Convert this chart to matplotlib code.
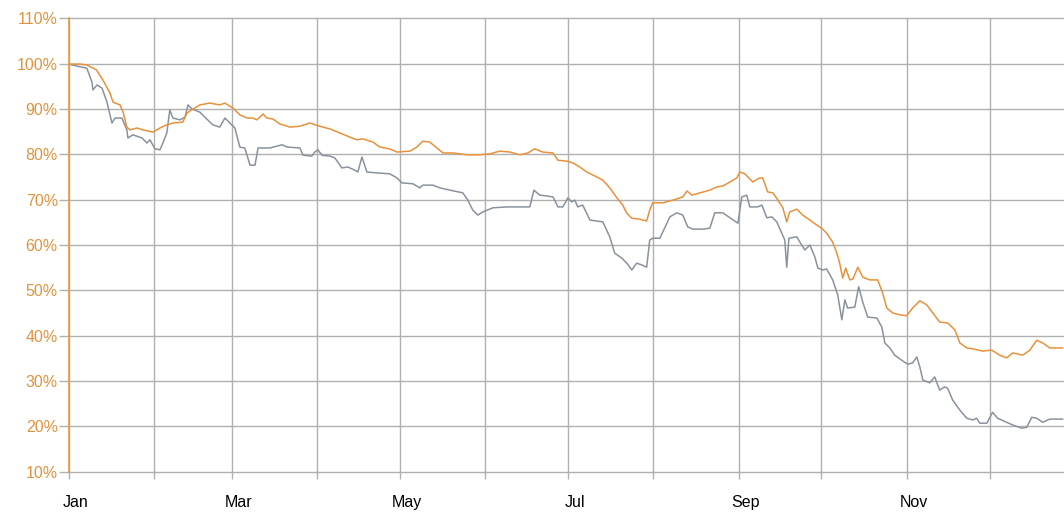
import numpy as np
import matplotlib.pyplot as plt
import matplotlib.transforms as mtransforms

# day of year / percent of start value
orange_day = [0, 4, 6.5, 10, 12.3, 14.9, 16, 18.5, 19.6, 21, 22.1, 24.7, 26.8, 30.5, 33, 35.5, 37.7, 41.3,
              42.8, 45, 47.5, 51.1, 54.7, 56.6, 59.5, 62, 64.6, 66.7, 68.2, 70.4, 71.8, 74, 76.5, 80.2, 83.8,
              87.4, 91, 94.7, 98.3, 101.9, 104.5, 106.6, 110.3, 112.8, 116.4, 119, 123.7, 126.2, 128.4, 130.9,
              133.5, 135.7, 139.3, 144.4, 149.1, 152.7, 156.3, 160, 163.6, 166.5, 169, 171.9, 175.6, 177.4,
              180.6, 182.8, 185.3, 187.9, 191.5, 193.7, 196.2, 198.8, 200.9, 202.4, 204.2, 207.1, 209.6, 210.7,
              211.8, 215.5, 219.1, 222.7, 224.2, 226, 228.9, 232.5, 235, 237.2, 239.8, 242.3, 243.4, 245.2,
              248.1, 250.6, 251.7, 253.5, 255.4, 257.2, 259, 260.4, 261.5, 264.1, 266.2, 268.8, 271.3, 273.1,
              274.9, 277.1, 278.6, 279.6, 280.7, 281.8, 283.3, 284.4, 286.2, 288, 290.5, 293.4, 295.2, 296.7,
              298.9, 301.4, 303.9, 306.1, 308.7, 311.2, 313.4, 315.9, 318.8, 321.4, 323.2, 325.7, 327.9, 331.5,
              334.8, 337.7, 340.2, 342.4, 346, 348.6, 351.1, 353.3, 355.8, 360.5]
orange_pct = [99.9, 99.9, 99.7, 98.6, 96.4, 93.5, 91.5, 90.9, 89.4, 86.0, 85.4, 85.8, 85.4, 84.9, 85.8, 86.5,
              86.9, 87.1, 89.1, 90.0, 90.9, 91.3, 90.9, 91.3, 90.2, 88.7, 88.0, 88.0, 87.6, 88.9, 88.0, 87.8,
              86.7, 86.0, 86.2, 86.9, 86.2, 85.6, 84.7, 83.8, 83.2, 83.4, 82.7, 81.6, 81.2, 80.5, 80.7, 81.6,
              82.9, 82.7, 81.4, 80.3, 80.3, 79.9, 79.9, 80.1, 80.7, 80.5, 79.9, 80.3, 81.2, 80.5, 80.3, 78.7,
              78.5, 78.1, 77.2, 76.1, 75.0, 74.3, 72.6, 70.4, 68.8, 67.0, 65.9, 65.7, 65.3, 67.7, 69.3, 69.3,
              69.9, 70.6, 71.9, 71.0, 71.5, 72.1, 72.8, 73.0, 73.9, 74.8, 76.1, 75.7, 73.9, 74.8, 74.8, 71.7,
              71.5, 69.9, 68.2, 65.1, 67.3, 67.9, 66.6, 65.5, 64.4, 63.7, 62.6, 60.6, 58.2, 56.0, 52.7, 54.9,
              52.3, 52.5, 55.1, 52.9, 52.3, 52.3, 49.4, 46.1, 45.0, 44.6, 44.4, 46.1, 47.7, 46.8, 45.0, 43.0,
              42.8, 41.3, 38.4, 37.3, 37.1, 36.6, 36.8, 35.7, 35.1, 36.2, 35.7, 36.8, 39.0, 38.4, 37.3, 37.3]

gray_day = [0, 4, 6.5, 8.3, 8.7, 10.2, 12, 13.8, 15.6, 16.7, 19.2, 21, 21.4, 23.2, 26.5, 28.3, 29.4, 31.2, 33,
            34.1, 35.5, 36.6, 37.7, 40.3, 42.1, 43.2, 44.6, 47.5, 49.3, 52.2, 54.7, 56.6, 58.4, 60.2, 62, 63.8,
            65.7, 67.5, 68.6, 72.9, 77.3, 79.1, 83.8, 84.9, 88.1, 89.2, 90.3, 91.8, 94.7, 96.5, 99, 101.2, 103.7,
            104.8, 106.3, 108.1, 111.7, 116.4, 119, 120.8, 124.8, 127.3, 128.4, 132, 134.6, 138.2, 142.9, 144.7,
            146.5, 148.3, 150.2, 153.8, 158.9, 163.6, 167.2, 168.7, 170.8, 173.4, 175.6, 177.4, 179.2, 181,
            182.4, 183.5, 184.6, 186.4, 189, 191.5, 193.7, 196.2, 198, 200.6, 202.4, 204.2, 206, 207.8, 209.6,
            210.7, 211.8, 214.4, 216.9, 218, 220.5, 222.7, 224.5, 226.3, 230, 232.5, 234.3, 237.2, 239.8, 242.7,
            244.1, 245.9, 247, 249.9, 251.4, 253.2, 255, 256.8, 258.6, 259.7, 260.4, 261.2, 264.1, 265.1, 267,
            268.8, 270.6, 271.7, 273.5, 274.9, 277.1, 278.9, 280.4, 281.5, 282.5, 285.1, 286.5, 288, 289.8,
            293.1, 294.9, 296, 297.8, 299.6, 302.1, 304.3, 306.1, 307.6, 308.7, 309.8, 312.3, 314.1, 315.9,
            317.7, 318.8, 320.6, 323.2, 325.7, 327.9, 329.3, 330.4, 333, 335.1, 336.9, 340.2, 342.4, 345.7,
            347.5, 349.3, 351.1, 353.3, 355.8, 360.5]
gray_pct = [99.9, 99.3, 99.0, 96.0, 94.2, 95.3, 94.6, 91.5, 86.9, 88.0, 88.0, 85.4, 83.6, 84.3, 83.6, 82.5, 83.2,
            81.2, 81.0, 82.5, 84.7, 89.8, 88.0, 87.6, 88.2, 90.9, 90.0, 89.3, 88.2, 86.5, 86.0, 88.0, 86.9, 85.8,
            81.6, 81.4, 77.6, 77.6, 81.4, 81.4, 82.1, 81.6, 81.4, 79.8, 79.6, 80.5, 81.0, 79.8, 79.6, 79.2, 77.0,
            77.2, 76.5, 76.1, 79.4, 76.1, 75.9, 75.7, 74.8, 73.7, 73.5, 72.6, 73.2, 73.2, 72.6, 72.1, 71.5, 69.9,
            67.7, 66.6, 67.3, 68.2, 68.4, 68.4, 68.4, 72.1, 71.0, 70.8, 70.6, 68.4, 68.4, 70.4, 69.5, 69.9, 68.4,
            68.8, 65.5, 65.3, 65.1, 61.8, 58.2, 57.1, 56.0, 54.5, 56.0, 55.6, 55.1, 61.1, 61.5, 61.5, 64.8, 66.2,
            67.1, 66.6, 64.0, 63.5, 63.5, 63.7, 67.1, 67.1, 66.0, 64.8, 70.6, 71.0, 68.4, 68.4, 68.8, 66.0, 66.2,
            65.1, 62.6, 61.1, 55.1, 61.5, 61.8, 60.7, 58.9, 60.0, 57.4, 54.9, 54.5, 54.7, 52.3, 49.0, 43.5, 47.9,
            46.1, 46.3, 50.8, 47.4, 44.1, 43.9, 41.9, 38.4, 37.3, 35.7, 34.6, 33.7, 34.0, 35.3, 33.1, 30.2, 29.6,
            30.9, 28.0, 28.7, 28.4, 25.8, 23.6, 21.8, 21.4, 21.8, 20.7, 20.7, 23.1, 21.8, 20.9, 20.3, 19.6, 19.8,
            22.0, 21.8, 20.9, 21.6, 21.6]

month_start = [0, 31, 59, 90, 120, 151, 181, 212, 243, 273, 304, 334]
month_lbl = ["Jan", "", "Mar", "", "May", "", "Jul", "", "Sep", "", "Nov", ""]
y_ticks = list(range(10, 111, 10))

fig = plt.figure(figsize=(10.64, 5.14), dpi=100)
ax = fig.add_axes([0.0648, 0.0823, 0.9352, 0.8821])

ax.plot(gray_day, gray_pct, color="#8a929c", lw=1.1, zorder=3)
ax.plot(orange_day, orange_pct, color="#e8913a", lw=1.1, zorder=4)

ax.set_xlim(0, 361)
ax.set_ylim(10, 110)
ax.set_xticks(month_start)
ax.set_xticklabels(month_lbl)
ax.set_yticks(y_ticks)
ax.set_yticklabels([f"{v}%" for v in y_ticks])

ax.grid(True, color="#b0b0b0", lw=1.0)
for gl in ax.get_xgridlines() + ax.get_ygridlines():
    gl.set_clip_on(False)
for s in ["top", "right", "bottom"]:
    ax.spines[s].set_visible(False)
ax.spines["left"].set_color("#eb9a3c")
ax.spines["left"].set_linewidth(1.2)
ax.spines["left"].set_zorder(5)

ax.tick_params(axis="y", length=7, width=1.0, color="#b0b0b0", pad=1,
               labelcolor="#e0933f", labelsize=11.5)
ax.tick_params(axis="x", length=5, width=1.0, color="#b0b0b0", pad=12,
               labelcolor="black", labelsize=11.5)
for t in ax.get_xticklabels() + ax.get_yticklabels():
    t.set_family(["Liberation Sans", "DejaVu Sans"])

# labels sit a little right of the month line
off = mtransforms.ScaledTranslation(7 / 100, 0, fig.dpi_scale_trans)
for t in ax.get_xticklabels():
    t.set_transform(t.get_transform() + off)

fig.savefig("out.png", dpi=100)
